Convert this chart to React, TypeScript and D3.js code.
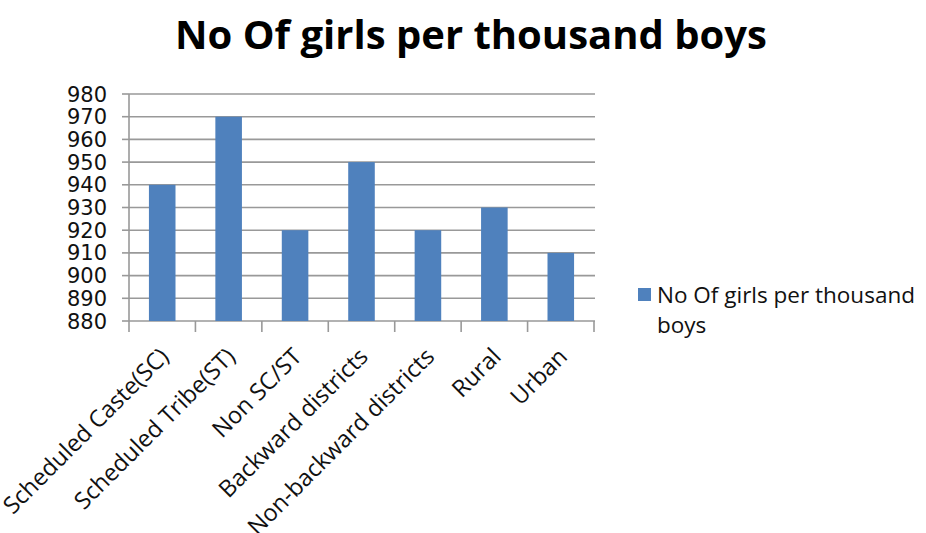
import React from "react";
import * as d3 from "d3";

const categories = [
  "Scheduled Caste(SC)",
  "Scheduled Tribe(ST)",
  "Non SC/ST",
  "Backward districts",
  "Non-backward districts",
  "Rural",
  "Urban",
];
const values = [940, 970, 920, 950, 920, 930, 910];
const yTicks = [880, 890, 900, 910, 920, 930, 940, 950, 960, 970, 980];
const title = "No Of girls per thousand boys";
const seriesName = ["No Of girls per thousand", "boys"];

const W = 926;
const H = 533;
const BAR = "#4F81BD";
const GRID = "#999999";

export default function App() {
  const x = d3.scaleBand<string>().domain(categories).range([129, 594]).paddingInner(0.6).paddingOuter(0.3);
  const xb = d3.scaleBand<string>().domain(categories).range([129, 594]);
  const y = d3.scaleLinear().domain([880, 980]).range([321, 94]);
  const calibri = "'Open Sans', 'Noto Sans', sans-serif";
  return (
    <svg width={W} height={H} style={{ position: "absolute", left: 0, top: 0, background: "#fff" }}>
      <text x={471} y={49} textAnchor="middle" fontFamily={calibri} fontWeight={700} fontSize={40} fill="#000">
        {title}
      </text>
      {yTicks.map((t) => (
        <g key={t}>
          <line x1={129} x2={595} y1={y(t)} y2={y(t)} stroke={GRID} strokeWidth={1.6} />
          <line x1={122} x2={129} y1={y(t)} y2={y(t)} stroke={GRID} strokeWidth={1.6} />
          <text x={107} y={y(t)} dy="0.36em" textAnchor="end" fontFamily="'DejaVu Sans', Verdana, sans-serif" fontSize={21} fill="#111">
            {t}
          </text>
        </g>
      ))}
      <line x1={129} x2={129} y1={94} y2={321} stroke={GRID} strokeWidth={1.6} />
      {categories.map((c) => (
        <line key={"t" + c} x1={xb(c)!} x2={xb(c)!} y1={321} y2={332} stroke={GRID} strokeWidth={1.6} />
      ))}
      <line x1={594} x2={594} y1={321} y2={332} stroke={GRID} strokeWidth={1.6} />
      {categories.map((c, i) => (
        <rect key={c} x={x(c)!} width={x.bandwidth()} y={y(values[i])} height={y(880) - y(values[i])} fill={BAR} />
      ))}
      {categories.map((c) => {
        const cx = xb(c)! + xb.bandwidth() / 2 + 8;
        const cy = 358;
        return (
          <text key={"l" + c} x={cx} y={cy} textAnchor="end" fontFamily={calibri} fontSize={23.5} fill="#111" transform={`rotate(-45 ${cx} ${cy})`}>
            {c}
          </text>
        );
      })}
      <rect x={638} y={288} width={13} height={13} fill={BAR} />
      <text x={657} y={303} fontFamily={calibri} fontSize={22.5} fill="#111">
        {seriesName[0]}
      </text>
      <text x={657} y={333} fontFamily={calibri} fontSize={22.5} fill="#111">
        {seriesName[1]}
      </text>
    </svg>
  );
}
